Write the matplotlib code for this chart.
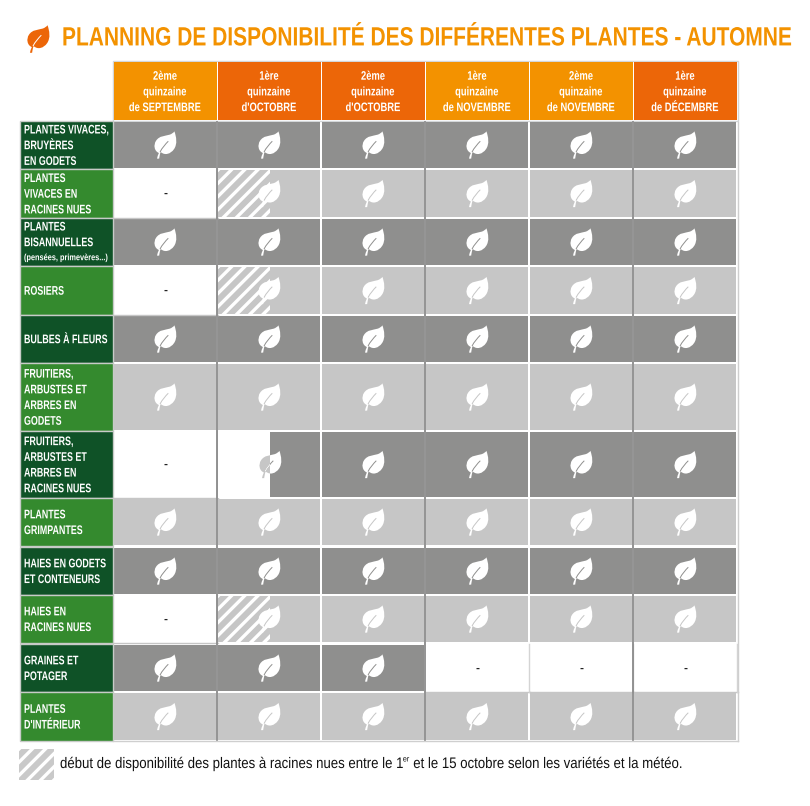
import matplotlib

matplotlib.use('Agg')
import matplotlib.pyplot as plt
from matplotlib.patches import Rectangle, PathPatch
from matplotlib.path import Path
from matplotlib.patheffects import AbstractPathEffect
from matplotlib.transforms import Affine2D

plt.rcParams['font.family'] = ['Liberation Sans', 'DejaVu Sans']

# ===================== data =====================
title = "PLANNING DE DISPONIBILITÉ DES DIFFÉRENTES PLANTES - AUTOMNE"
footnote_a = "début de disponibilité des plantes à racines nues entre le 1"
footnote_b = "er"
footnote_c = " et le 15 octobre selon les variétés et la météo."

columns = [
    ["2ème", "quinzaine", "de SEPTEMBRE"],
    ["1ère", "quinzaine", "d'OCTOBRE"],
    ["2ème", "quinzaine", "d'OCTOBRE"],
    ["1ère", "quinzaine", "de NOVEMBRE"],
    ["2ème", "quinzaine", "de NOVEMBRE"],
    ["1ère", "quinzaine", "de DÉCEMBRE"],
]
column_dark = [0, 1, 1, 0, 0, 1]

rows = [
    ["PLANTES VIVACES,", "BRUYÈRES", "EN GODETS"],
    ["PLANTES", "VIVACES EN", "RACINES NUES"],
    ["PLANTES", "BISANNUELLES", "(pensées, primevères...)"],
    ["ROSIERS"],
    ["BULBES À FLEURS"],
    ["FRUITIERS,", "ARBUSTES ET", "ARBRES EN", "GODETS"],
    ["FRUITIERS,", "ARBUSTES ET", "ARBRES EN", "RACINES NUES"],
    ["PLANTES", "GRIMPANTES"],
    ["HAIES EN GODETS", "ET CONTENEURS"],
    ["HAIES EN", "RACINES NUES"],
    ["GRAINES ET", "POTAGER"],
    ["PLANTES", "D'INTÉRIEUR"],
]
row_dark = [1, 0, 1, 0, 1, 0, 1, 0, 1, 0, 1, 0]

# 0 = pas dispo, 1 = dispo, 2 = debut hachure, 3 = debut moitie blanche
status = [
    [1, 1, 1, 1, 1, 1],
    [0, 2, 1, 1, 1, 1],
    [1, 1, 1, 1, 1, 1],
    [0, 2, 1, 1, 1, 1],
    [1, 1, 1, 1, 1, 1],
    [1, 1, 1, 1, 1, 1],
    [0, 3, 1, 1, 1, 1],
    [1, 1, 1, 1, 1, 1],
    [1, 1, 1, 1, 1, 1],
    [0, 2, 1, 1, 1, 1],
    [1, 1, 1, 0, 0, 0],
    [1, 1, 1, 1, 1, 1],
]

# ===================== layout (pixels) =====================
col_edges = [113.5, 217.5, 321.5, 425.5, 529.5, 633.5, 737.5]
row_tops = [122, 170, 219, 267, 316, 364, 432, 499, 548, 596, 645, 693]
row_bots = [168, 217, 265, 314, 362, 430, 497, 545, 594, 642, 691, 740]

ORANGE = '#f39200'
ORANGE_DARK = '#ec6608'
GREEN_DARK = '#0f5227'
GREEN = '#348a2e'
GREY_DARK = '#8f8f8e'
GREY_LIGHT = '#c6c6c6'
LINE = '#8a8a8a'
EDGE = '#d3d6d8'

# feuille dessinee autour de (0, 0), pointe en haut a droite
LEAF = Path(
    [(-8.5, 14.5), (-8.0, 12.5), (-7.5, 10.5), (-6.5, 8.5),
     (-11.5, 6.5), (-12.5, 0.0), (-9.5, -4.5),
     (-6.0, -10.0), (0.0, -9.5), (5.0, -11.0),
     (7.0, -11.7), (9.0, -13.0), (10.0, -14.5),
     (12.0, -9.0), (13.5, -1.0), (9.5, 4.5),
     (6.0, 9.5), (0.0, 11.5), (-4.5, 7.5),
     (-5.5, 9.0), (-5.8, 12.0), (-6.2, 14.5),
     (-8.5, 14.5)],
    [Path.MOVETO] + [Path.CURVE4] * 21 + [Path.CLOSEPOLY],
)
VEIN = Path([(-5.3, 7.5), (-3.0, 3.0), (0.5, -1.0), (3.5, -4.0)],
            [Path.MOVETO, Path.CURVE4, Path.CURVE4, Path.CURVE4])


class Squeeze(AbstractPathEffect):
    """Police etroite absente : on deforme le texte autour du point (x_px, y_px)."""

    def __init__(self, sx, sy, x_px, y_px):
        super().__init__()
        self.sx = sx
        self.sy = sy
        self.x_px = x_px
        self.y_px = y_px

    def draw_path(self, renderer, gc, tpath, affine, rgbFace=None):
        squeeze = (Affine2D().translate(-self.x_px, -self.y_px)
                   .scale(self.sx, self.sy).translate(self.x_px, self.y_px))
        renderer.draw_path(gc, tpath, affine + squeeze, rgbFace)


fig = plt.figure(figsize=(8.1, 8.06), dpi=100)
ax = fig.add_axes([0, 0, 1, 1])
ax.set_xlim(0, 810)
ax.set_ylim(806, 0)
ax.axis('off')


def narrow_text(x, y, s, sx, sy=1.0, anchor=None, **kw):
    t = ax.text(x, y, s, **kw)
    px, py = ax.transData.transform((x if anchor is None else anchor, y))
    t.set_path_effects([Squeeze(sx, sy, px, py)])
    return t


def draw_leaf(cx, cy, bg, scale=0.94, color='white', clip=None):
    tr = Affine2D().scale(scale).translate(cx, cy) + ax.transData
    leaf = PathPatch(LEAF, facecolor=color, edgecolor='none', transform=tr, zorder=5)
    vein = PathPatch(VEIN, facecolor='none', edgecolor=bg, lw=0.7, transform=tr, zorder=6)
    ax.add_patch(leaf)
    ax.add_patch(vein)
    if clip is not None:
        leaf.set_clip_path(clip)
        vein.set_clip_path(clip)


def draw_stripes(x0, y0, x1, y1, band):
    # bandes diagonales blanches sur fond gris, coupees au rectangle
    box = Rectangle((x0, y0), x1 - x0, y1 - y0, facecolor=band, edgecolor='none', zorder=2)
    ax.add_patch(box)
    h = y1 - y0
    x = x0 - h - 4
    while x < x1 + 4:
        ln, = ax.plot([x, x + h + 8], [y1 + 4, y0 - 4], color='white', lw=2.4, zorder=3, solid_capstyle='butt')
        ln.set_clip_path(box)
        x += 13.2


# ----- titre -----
fig.canvas.draw()
renderer = fig.canvas.get_renderer()
probe = ax.text(0, 0, title, fontsize=19, fontweight='bold')
title_size = 19 * 729 / probe.get_window_extent(renderer).width
probe.remove()
narrow_text(62, 38.5, title, 1.0, sy=19 / title_size, fontsize=title_size, fontweight='bold', color=ORANGE,
            ha='left', va='center')
draw_leaf(38, 39, 'white', scale=0.95, color=ORANGE_DARK)

# ----- en-tetes de colonnes -----
ax.add_patch(Rectangle((113, 61), 625, 60, facecolor='none', edgecolor=EDGE, lw=1.0, zorder=1))
for j, lines in enumerate(columns):
    x0, x1 = col_edges[j], col_edges[j + 1]
    c = ORANGE_DARK if column_dark[j] else ORANGE
    ax.add_patch(Rectangle((x0 + 0.5, 62), x1 - x0 - 1.5, 58, facecolor=c, edgecolor='none', zorder=2))
    xc = (x0 + x1) / 2 - 0.5
    for k, s in enumerate(lines):
        narrow_text(xc, 76.7 + k * 15.7, s, 0.76, fontsize=8.9, color='white', ha='center', va='center',
                    fontweight='bold', zorder=3)

# ----- lignes -----
for i, lines in enumerate(rows):
    y0, y1 = row_tops[i], row_bots[i]
    ym = (y0 + y1) / 2
    ax.add_patch(Rectangle((20, y0 - 1), 93, y1 - y0 + 2, facecolor=GREEN_DARK if row_dark[i] else GREEN,
                           edgecolor='#c8cbc8', lw=1.0, zorder=2))
    n = len(lines)
    for k, s in enumerate(lines):
        yy = ym + (k - (n - 1) / 2) * 15.7
        if s.startswith('('):
            narrow_text(24, yy, s, 0.815, fontsize=6.5, color='white', ha='left', va='center', fontweight='bold',
                        zorder=3)
        else:
            narrow_text(24, yy + 1.2, s, 0.712, fontsize=9, color='white', ha='left', va='center',
                        fontweight='bold', zorder=3)

    bg = GREY_DARK if row_dark[i] else GREY_LIGHT
    for j, st in enumerate(status[i]):
        x0, x1 = col_edges[j], col_edges[j + 1]
        xm = (x0 + x1) / 2 - 0.5
        if st == 0:
            ax.add_patch(Rectangle((x0, y0 - 1), x1 - x0, y1 - y0 + 2, facecolor='white', edgecolor='none', zorder=1))
            ax.plot([x0, x1], [y1 + 0.7, y1 + 0.7], color=GREY_LIGHT, lw=1.0, zorder=2)
            ax.plot([x1 - 0.5, x1 - 0.5], [y0 - 1, y1 + 1], color='#d4d4d4', lw=1.0, zorder=2)
            ax.text(xm, ym + 0.5, "-", fontsize=8.5, fontweight='bold', color='#222222', ha='center', va='center',
                    zorder=3)
            continue
        ax.add_patch(Rectangle((x0, y0), x1 - x0 - 1.5, y1 - y0, facecolor=bg, edgecolor='none', zorder=1))
        if st == 2:
            draw_stripes(x0 + 0.5, y0, xm + 0.5, y1, bg)
            draw_leaf(xm, ym, bg)
        elif st == 3:
            cover = Rectangle((x0, y0 - 1), xm + 0.5 - x0, y1 - y0 + 2, facecolor='white', edgecolor='none', zorder=2)
            ax.add_patch(cover)
            draw_leaf(xm + 1, ym, bg)
            half = Rectangle((x0, y0 - 1), xm + 0.5 - x0, y1 - y0 + 2, transform=ax.transData)
            draw_leaf(xm + 1, ym, 'white', color=GREY_LIGHT, clip=half)
        else:
            draw_leaf(xm, ym, bg)

# ----- traits verticaux et bord droit -----
for j in [1, 3, 5]:
    ax.plot([col_edges[j] - 0.5] * 2, [122, 740], color=LINE, lw=1.3, zorder=4)
ax.plot([737.5, 737.5], [122, 741], color='#cfcfcf', lw=1.0, zorder=4)
ax.plot([113, 738], [741, 741], color='#cfcfcf', lw=1.0, zorder=4)

# ----- legende -----
draw_stripes(19, 749, 54, 780, '#c9c9c9')
foot_sx = 0.864
t = narrow_text(60, 764, footnote_a, foot_sx, anchor=60, fontsize=11, color='#111111', ha='left', va='center')
end = t.get_window_extent(renderer).x1
t2 = narrow_text(end + 0.3, 760, footnote_b, foot_sx, anchor=60, fontsize=6.0, color='#111111', ha='left', va='center')
end2 = t2.get_window_extent(renderer).x1
narrow_text(end2 + 0.3, 764, footnote_c, foot_sx, anchor=60, fontsize=11, color='#111111', ha='left', va='center')

fig.savefig('out.png', dpi=100)
